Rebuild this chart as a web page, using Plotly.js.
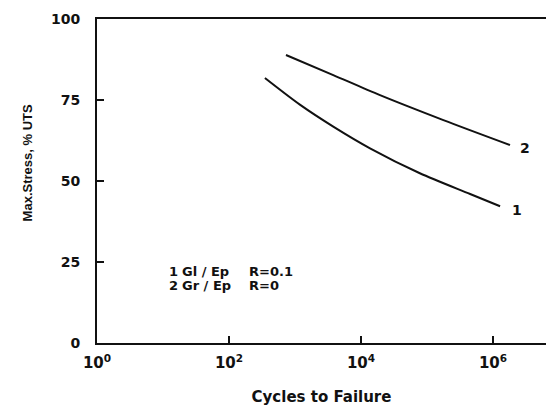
<!DOCTYPE html>
<html>
<head>
<meta charset="utf-8">
<script src="https://cdn.plot.ly/plotly-3.0.1.min.js"></script>
<style>html,body{margin:0;padding:0;background:#fff;}#chart{width:546px;height:406px;}</style>
</head>
<body>
<div id="chart"></div>
<script>
// Curve 1: Gl/Ep, R=0.1
const cycles1 = [350, 1200, 3800, 13700, 78000, 450000, 1280000];
const stress1 = [81.8, 73.5, 66.8, 60.1, 52.4, 46.0, 42.2];
// Curve 2: Gr/Ep, R=0
const cycles2 = [730, 3800, 19400, 177000, 1810000];
const stress2 = [88.9, 82.7, 76.5, 68.8, 61.1];

const curveLabels = ['1', '2'];
const legendNums = ['1', '2'];
const legendMats = ['Gl / Ep', 'Gr / Ep'];
const legendR = ['R=0.1', 'R=0'];

const xTickVals = [1, 100, 10000, 1000000];
const xTickText = ['10<sup>0</sup>', '10<sup>2</sup>', '10<sup>4</sup>', '10<sup>6</sup>'];
const yTickVals = [0, 25, 50, 75, 100];
const yTickText = ['0', '25', '50', '75', '100'];

const xTitle = 'Cycles to Failure';
const yTitle = 'Max.Stress, % UTS';

const ink = '#111';
const lineStyle = {color: ink, width: 2, shape: 'spline', smoothing: 0.8};

const traces = [
  {x: cycles1, y: stress1, mode: 'lines', line: lineStyle, name: legendMats[0], hoverinfo: 'skip'},
  {x: cycles2, y: stress2, mode: 'lines', line: lineStyle, name: legendMats[1], hoverinfo: 'skip'}
];

const boldFont = (size) => ({family: 'DejaVu Sans', size: size, color: ink, weight: 'bold'});

const annotations = [];
// curve end labels
const ends = [[cycles1, stress1], [cycles2, stress2]];
const endOffsets = [[17, -4], [15, -3]];
ends.forEach((e, i) => {
  const n = e[0].length;
  annotations.push({
    x: Math.log10(e[0][n - 1]), y: e[1][n - 1], xref: 'x', yref: 'y',
    text: curveLabels[i], showarrow: false, xanchor: 'center', yanchor: 'middle',
    xshift: endOffsets[i][0], yshift: endOffsets[i][1],
    font: boldFont(14)
  });
});
// legend block
const rowsY = [271, 285];
for (let i = 0; i < 2; i++) {
  const yp = 1 - (rowsY[i] - 19) / 324;
  [[legendNums[i], 167], [legendMats[i], 180], [legendR[i], 247]].forEach(([t, px]) => {
    annotations.push({
      x: (px - 97) / 449, y: yp, xref: 'paper', yref: 'paper',
      text: t, showarrow: false, xanchor: 'left', yanchor: 'middle',
      font: boldFont(13)
    });
  });
}
// y title
annotations.push({
  x: -0.155, y: 1 - (163 - 19) / 324, xref: 'paper', yref: 'paper',
  text: yTitle, showarrow: false, textangle: -90, xanchor: 'center', yanchor: 'middle',
  font: {family: 'Liberation Sans', size: 13, color: ink, weight: 'bold'}
});

const layout = {
  width: 546, height: 406,
  margin: {l: 97, r: 0, t: 19, b: 63, pad: 0},
  paper_bgcolor: '#fff', plot_bgcolor: '#fff',
  showlegend: false,
  xaxis: {
    type: 'log', range: [0, 6.803], showgrid: false, zeroline: false,
    showline: true, linecolor: ink, linewidth: 2, mirror: true,
    ticks: 'inside', ticklen: 7, tickwidth: 1.5, tickcolor: ink,
    tickmode: 'array', tickvals: xTickVals, ticktext: xTickText,
    tickfont: boldFont(15), ticklabelstandoff: 5,
    title: {text: xTitle, font: boldFont(15), standoff: 22}
  },
  yaxis: {
    range: [0, 100], showgrid: false, zeroline: false,
    showline: true, linecolor: ink, linewidth: 2,
    ticks: 'inside', ticklen: 7, tickwidth: 1.5, tickcolor: ink,
    tickmode: 'array', tickvals: yTickVals, ticktext: yTickText,
    tickfont: boldFont(14), ticklabelstandoff: 12
  },
  annotations: annotations
};

Plotly.newPlot('chart', traces, layout, {displayModeBar: false, staticPlot: true});
</script>
</body>
</html>
